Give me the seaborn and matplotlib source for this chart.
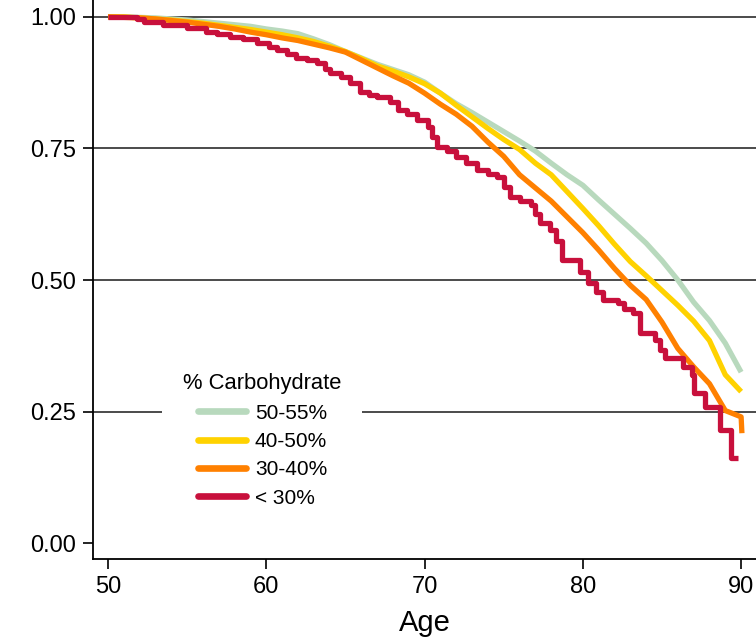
import numpy as np
import pandas as pd
import matplotlib
matplotlib.use("Agg")
import matplotlib.pyplot as plt
from matplotlib.lines import Line2D
import seaborn as sns

# survival (Kaplan-Meier by % carbohydrate)
ages_smooth = [50, 51, 52, 53, 54, 55, 56, 57, 58, 59, 60, 61, 62, 63, 64, 65, 66, 67, 68, 69,
               70, 71, 72, 73, 74, 75, 76, 77, 78, 79, 80, 81, 82, 83, 84, 85, 86, 87, 88, 89, 90]

surv_50_55 = [1.000, 1.000, 0.999, 0.998, 0.996, 0.994, 0.991, 0.988, 0.985, 0.982, 0.977,
              0.973, 0.968, 0.958, 0.947, 0.934, 0.922, 0.910, 0.900, 0.890, 0.876, 0.855,
              0.835, 0.818, 0.800, 0.782, 0.764, 0.745, 0.722, 0.700, 0.680, 0.652, 0.625,
              0.598, 0.570, 0.537, 0.500, 0.458, 0.423, 0.380, 0.325]

surv_40_50 = [1.000, 1.000, 0.998, 0.996, 0.994, 0.991, 0.988, 0.984, 0.980, 0.976, 0.971,
              0.966, 0.960, 0.953, 0.944, 0.934, 0.921, 0.907, 0.897, 0.886, 0.873, 0.855,
              0.832, 0.810, 0.788, 0.767, 0.748, 0.722, 0.700, 0.668, 0.636, 0.603, 0.568,
              0.535, 0.508, 0.480, 0.452, 0.422, 0.385, 0.320, 0.288]

ages_30_40 = ages_smooth + [90.05]
surv_30_40 = [1.000, 0.999, 0.998, 0.996, 0.993, 0.990, 0.986, 0.982, 0.977, 0.971, 0.966,
              0.960, 0.955, 0.948, 0.941, 0.933, 0.918, 0.903, 0.888, 0.874, 0.855, 0.834,
              0.815, 0.792, 0.762, 0.735, 0.700, 0.675, 0.650, 0.620, 0.590, 0.557, 0.522,
              0.490, 0.463, 0.420, 0.370, 0.335, 0.303, 0.252, 0.240, 0.209]

ages_lt30 = [50.0, 51.8, 52.3, 53.5, 55.0, 56.2, 56.9, 57.7, 58.5, 59.4, 60.2, 60.7, 61.3,
             61.9, 62.6, 63.2, 63.7, 64.0, 64.7, 65.3, 65.9, 66.5, 67.0, 67.8, 68.3, 68.9,
             69.5, 70.2, 70.5, 70.8, 71.4, 72.0, 72.6, 73.3, 74.0, 74.6, 75.0, 75.4, 76.0,
             76.7, 77.0, 77.3, 77.9, 78.3, 78.7, 79.8, 80.3, 80.8, 81.3, 82.2, 82.6, 83.2,
             83.6, 84.55, 84.9, 85.2, 86.3, 86.9, 87.0, 87.7, 88.65, 89.35, 89.8]
surv_lt30 = [1.000, 0.995, 0.990, 0.985, 0.979, 0.972, 0.968, 0.962, 0.957, 0.950, 0.943,
             0.937, 0.930, 0.922, 0.918, 0.912, 0.900, 0.894, 0.885, 0.875, 0.857, 0.851,
             0.848, 0.838, 0.823, 0.815, 0.804, 0.791, 0.772, 0.753, 0.745, 0.734, 0.722,
             0.709, 0.702, 0.696, 0.677, 0.658, 0.650, 0.643, 0.625, 0.608, 0.595, 0.575,
             0.538, 0.515, 0.495, 0.478, 0.462, 0.456, 0.445, 0.437, 0.399, 0.386, 0.367,
             0.352, 0.335, 0.319, 0.285, 0.259, 0.215, 0.162, 0.162]

groups = ["50-55%", "40-50%", "30-40%", "< 30%"]
colors = ["#b8d9bd", "#ffd200", "#ff8000", "#c8103c"]

smooth = pd.concat([
    pd.DataFrame({"Age": ages_smooth, "S": surv_50_55, "grp": groups[0]}),
    pd.DataFrame({"Age": ages_smooth, "S": surv_40_50, "grp": groups[1]}),
    pd.DataFrame({"Age": ages_30_40, "S": surv_30_40, "grp": groups[2]}),
])
red = pd.DataFrame({"Age": ages_lt30, "S": surv_lt30})

sns.set_style("ticks")
plt.rcParams["font.family"] = ["Liberation Sans", "DejaVu Sans"]
plt.rcParams["text.color"] = "black"
plt.rcParams["axes.labelcolor"] = "black"

fig = plt.figure(figsize=(7.56, 6.38), dpi=100)
ax = fig.add_axes([93 / 756, 79 / 638, 663 / 756, 559 / 638])

# horizontal reference lines
for yv in [0.25, 0.5, 0.75, 1.0]:
    ax.axhline(yv, color="#1a1a1a", lw=1.1, zorder=1)

sns.lineplot(data=smooth, x="Age", y="S", hue="grp", hue_order=groups[:3],
             palette=colors[:3], lw=3.8, ax=ax, legend=False, zorder=3,
             solid_capstyle="butt")
sns.lineplot(data=red, x="Age", y="S", color=colors[3], lw=3.8, ax=ax,
             drawstyle="steps-post", zorder=4, solid_capstyle="butt")

ax.set_xlim(49.05, 90.94)
ax.set_ylim(-0.030, 1.032)
ax.set_xticks([50, 60, 70, 80, 90])
ax.set_yticks([0.0, 0.25, 0.5, 0.75, 1.0])
ax.set_yticklabels(["0.00", "0.25", "0.50", "0.75", "1.00"])
ax.tick_params(axis="both", direction="out", length=7, width=1.2, color="black",
               labelsize=17, labelcolor="black", pad=5)
ax.set_xlabel("Age", fontsize=21, labelpad=8)
ax.set_ylabel("")

sns.despine(ax=ax)
for side in ["left", "bottom"]:
    ax.spines[side].set_color("black")
    ax.spines[side].set_linewidth(1.3)

handles = [Line2D([0], [0], color=c, lw=4.8) for c in colors]
leg = ax.legend(handles, groups, title="% Carbohydrate", loc="upper left",
                bbox_to_anchor=((152 - 93) / 663, (559 - 342) / 559),
                frameon=True, fontsize=15, title_fontsize=15.8,
                handlelength=2.3, labelspacing=0.45, borderpad=1.0,
                handletextpad=0.45)
leg.get_frame().set_facecolor("white")
leg.get_frame().set_edgecolor("none")
leg.get_frame().set_alpha(1.0)
leg.get_frame().set_boxstyle("square", pad=0)
leg.set_zorder(5)

fig.savefig("out.png", dpi=100)
